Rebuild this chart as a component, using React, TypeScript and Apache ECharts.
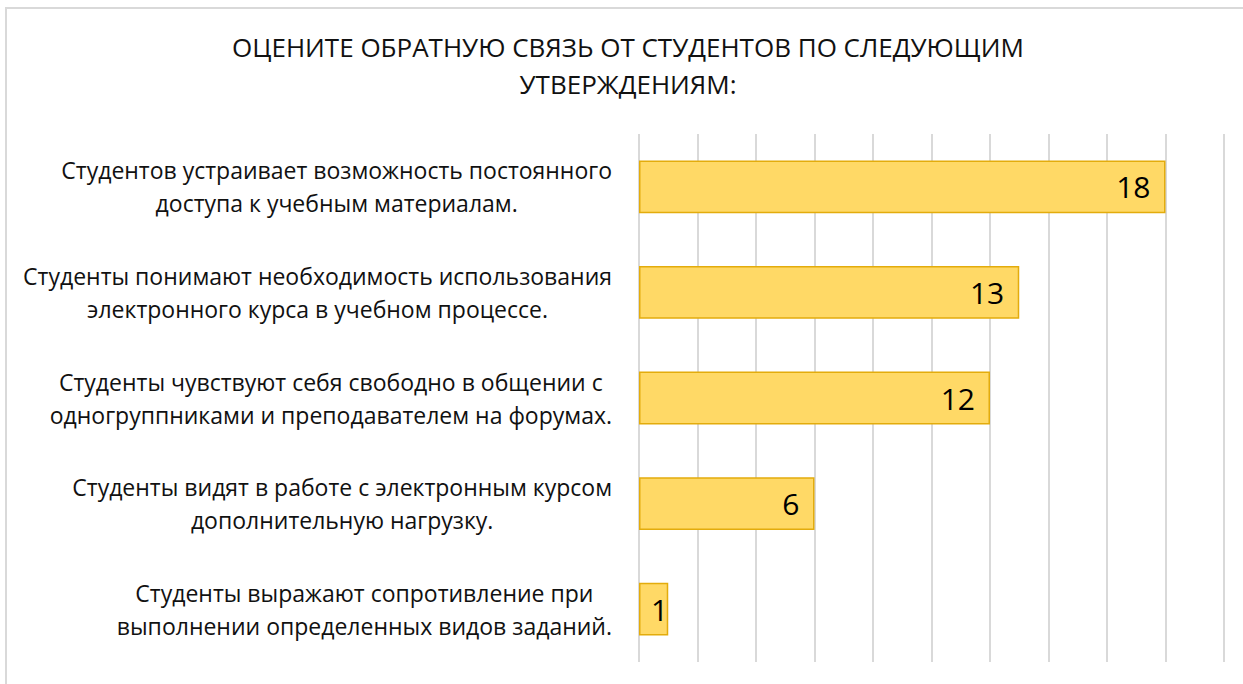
import React, { useEffect, useRef } from "react";
import * as echarts from "echarts";

const titleLines = ["ОЦЕНИТЕ ОБРАТНУЮ СВЯЗЬ ОТ СТУДЕНТОВ ПО СЛЕДУЮЩИМ", "УТВЕРЖДЕНИЯМ:"];

const categories = [
  "Студентов устраивает возможность постоянного\nдоступа к учебным материалам.",
  "Студенты понимают необходимость использования\nэлектронного курса в учебном процессе.",
  "Студенты чувствуют себя свободно в общении с\nодногруппниками и преподавателем на форумах.",
  "Студенты видят в работе с электронным курсом\nдополнительную нагрузку.",
  "Студенты выражают сопротивление при\nвыполнении определенных видов заданий.",
];

const values = [18, 13, 12, 6, 1];

const axisMin = 0;
const axisMax = 20;
const axisStep = 2;

const FONT = "'Open Sans', 'Noto Sans', sans-serif";

export default function App() {
  const ref = useRef<HTMLDivElement>(null);

  useEffect(() => {
    if (!ref.current) return;
    const chart = echarts.init(ref.current, null, { renderer: "svg" });
    chart.setOption({
      animation: false,
      backgroundColor: "#ffffff",
      graphic: [
        {
          type: "rect",
          shape: { x: 6, y: 8, width: 1300, height: 700 },
          style: { fill: "none", stroke: "#d9d9d9", lineWidth: 2 },
          silent: true,
        },
      ],
      title: {
        text: titleLines.join("\n"),
        left: 628,
        top: 28,
        padding: 0,
        textAlign: "center",
        textStyle: {
          fontFamily: FONT,
          fontSize: 26,
          fontWeight: "normal",
          color: "#111111",
          lineHeight: 37,
        },
      },
      grid: { left: 639, right: 19, top: 134, bottom: 22, containLabel: false },
      xAxis: {
        type: "value",
        min: axisMin,
        max: axisMax,
        interval: axisStep,
        axisLabel: { show: false },
        axisLine: { show: false },
        axisTick: { show: false },
        splitLine: { show: true, lineStyle: { color: "#d9d9d9", width: 2 } },
      },
      yAxis: {
        type: "category",
        inverse: true,
        data: categories,
        axisLine: { show: false },
        axisTick: { show: false },
        axisLabel: {
          margin: 27,
          align: "right",
          formatter: (v: string) =>
            v
              .split("\n")
              .map((l) => `{c|${l}}`)
              .join("\n"),
          rich: {
            c: {
              align: "center",
              fontFamily: FONT,
              fontSize: 23,
              lineHeight: 33,
              color: "#111111",
            },
          },
        },
      },
      series: [
        {
          type: "bar",
          barWidth: "50%",
          data: values.map((v) =>
            v < 2 ? { value: v, label: { distance: 0 } } : { value: v }
          ),
          itemStyle: {
            color: "#FFD966",
            borderColor: "#E3AC0C",
            borderWidth: 1.5,
          },
          label: {
            show: true,
            position: "insideRight",
            distance: 15,
            fontFamily: FONT,
            fontSize: 30,
            color: "#000000",
          },
        },
      ],
    });
    return () => chart.dispose();
  }, []);

  return (
    <div
      ref={ref}
      style={{ position: "fixed", left: 0, top: 0, width: 1243, height: 684 }}
    />
  );
}
